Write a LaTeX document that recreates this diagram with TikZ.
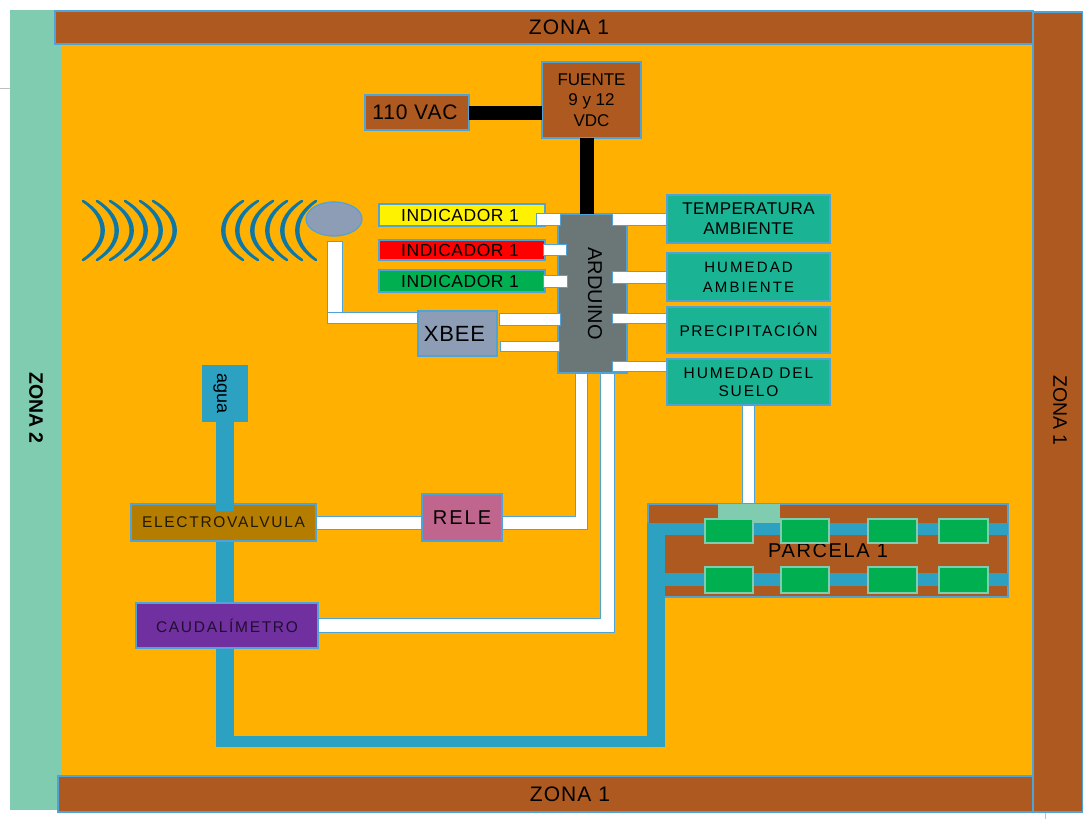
\documentclass[tikz,border=0pt]{standalone}
\usepackage{fontspec}
\usetikzlibrary{shapes.geometric}
\setmainfont{Liberation Sans}
\definecolor{edgeb}{HTML}{4FA3D8}
\definecolor{brownz}{HTML}{AD591F}
\definecolor{tealz}{HTML}{80CCB0}
\definecolor{orangez}{HTML}{FFB000}
\definecolor{pipec}{HTML}{2CA1C1}
\definecolor{sensorc}{HTML}{1AB394}
\definecolor{greyb}{HTML}{8D9DB5}
\definecolor{ardc}{HTML}{6B7777}
\definecolor{wavec}{HTML}{0F77A5}
\definecolor{greenc}{HTML}{00B050}
\definecolor{evc}{HTML}{B47D00}
\definecolor{purc}{HTML}{7030A0}
\definecolor{relc}{HTML}{C0668E}
\newcommand{\fsz}[1]{\fontsize{#1}{#1}\selectfont}
\newcommand{\lsp}[1]{\addfontfeatures{LetterSpace=#1}}
\newcommand{\bx}[7]{%
  \pgfmathsetmacro{\cxx}{(#2+#4)/2}\pgfmathsetmacro{\cyy}{(#3+#5)/2}%
  \pgfmathsetmacro{\wdd}{#4-#2}\pgfmathsetmacro{\htt}{#5-#3}%
  \node[box,minimum width=\wdd pt,minimum height=\htt pt,#6] (#1) at (\cxx,\cyy) {#7};}
\tikzset{
  box/.style={draw=edgeb,line width=1.2pt,inner sep=0pt,outer sep=0pt,align=center,text=black},
  valve/.style={fill=greenc,draw=tealz,line width=1.2pt},
  wire/.style={draw=edgeb,line width=1pt,double=white,double distance=#1,line cap=rect,line join=miter},
  blackw/.style={draw=black,line width=#1},
  pipe/.style={draw=pipec,line width=#1},
  wave/.style={draw=wavec,fill=wavec,line width=2.6pt,line join=round},
}
\begin{document}
\begin{tikzpicture}[x=1pt,y=-1pt]
\useasboundingbox (0,0) rectangle (1083,819);
\fill[white] (0,0) rectangle (1083,819);
\coordinate (gl) at (0,88); \coordinate (gr) at (10,88);
\draw[black!25,line width=.8pt] (gl) -- (gr);
\coordinate (tl) at (1045,812); \coordinate (tr) at (1045,819);
\draw[black!25,line width=.8pt] (tl) -- (tr);
% field
\bx{field}{60}{42}{1035}{778}{draw=none,fill=orangez}{}
\bx{zleft}{10}{10}{62}{810}{draw=none,fill=tealz}{}
\node[rotate=-90,font=\bfseries\fsz{19.5}] (zltxt) at (36,408) {ZONA 2};
\bx{ztop}{55}{11}{1033}{44}{fill=brownz}{}
\node[font=\fsz{21}\lsp{5}] (ztoptxt) at (569,27.5) {ZONA 1};
\bx{zbot}{58}{776}{1033}{812}{fill=brownz}{}
\node[font=\fsz{21}\lsp{5}] (zbottxt) at (570,794) {ZONA 1};
\bx{zright}{1033}{12}{1083}{812}{fill=brownz}{}
\node[rotate=-90,font=\fsz{19.5}] (zrtxt) at (1060,410.5) {ZONA 1};
% parcel
\bx{parc}{648}{504}{1008}{597}{fill=brownz,font=\fsz{20}\lsp{8}}{PARCELA 1}
\bx{junc}{718}{504}{780}{523}{draw=none,fill=tealz}{}
% pipes
\bx{agua}{203}{366}{247}{421}{fill=pipec,draw=pipec}{\rotatebox{-90}{\fsz{18}agua}\hspace*{10pt}}
\coordinate (pA) at (225,747);
\coordinate (pB) at (225,741.5);
\coordinate (pC) at (665,741.5);
\coordinate (pD) at (656,747);
\coordinate (pE) at (656,523);
\coordinate (pF) at (648,529);
\coordinate (pG) at (1008,529);
\coordinate (pH) at (648,579.5);
\coordinate (pI) at (1008,579.5);
\draw[pipe=18pt] (agua.south) -- (pA);
\draw[pipe=11pt] (pB) -- (pC);
\draw[pipe=18pt] (pD) -- (pE);
\draw[pipe=12pt] (pF) -- (pG);
\draw[pipe=13pt] (pH) -- (pI);
% valves
\bx{va}{705}{519}{753}{543}{valve}{}
\bx{vb}{781}{519}{829}{543}{valve}{}
\bx{vc}{868}{519}{917}{543}{valve}{}
\bx{vd}{939}{519}{988}{543}{valve}{}
\bx{ve}{705}{567}{753}{593}{valve}{}
\bx{vf}{781}{567}{829}{593}{valve}{}
\bx{vg}{868}{567}{917}{593}{valve}{}
\bx{vh}{939}{567}{988}{593}{valve}{}
% power
\bx{fuente}{542}{62}{641}{138}{fill=brownz,font=\fsz{17}}{FUENTE\\[3.5pt]9 y 12\\[3.5pt]VDC}
\bx{vac}{365}{95}{469}{130}{fill=brownz,font=\fsz{21}\lsp{4}}{110 VAC\hspace*{4pt}}
\bx{ard}{558}{214}{627}{373}{fill=ardc}{\hspace*{5pt}\rotatebox{-90}{\fsz{20}ARDUINO}}
\draw[blackw=14pt] (vac.east |- 0,113) -- (fuente.west |- 0,113);
\draw[blackw=14pt] (fuente.south -| 586.5,0) -- (ard.north -| 586.5,0);
% indicators
\bx{iy}{379}{204}{545}{226}{fill=yellow,font=\fsz{17.5}\lsp{3}}{INDICADOR 1\hspace*{4pt}}
\bx{ir}{379}{240}{545}{260}{fill=red,font=\fsz{17.5}\lsp{3}}{INDICADOR 1\hspace*{4pt}}
\bx{ig}{379}{270}{545}{292}{fill=greenc,font=\fsz{17.5}\lsp{3}}{INDICADOR 1\hspace*{4pt}}
% sensors
\bx{temp}{667}{195}{830}{243}{fill=sensorc,font=\fsz{17}\lsp{3}}{TEMPERATURA\\[3pt]AMBIENTE}
\bx{hum}{667}{253}{830}{301}{fill=sensorc,font=\fsz{15}\lsp{14}}{HUMEDAD\\[5pt]AMBIENTE}
\bx{prec}{667}{307}{830}{353}{fill=sensorc,font=\fsz{15.5}\lsp{10}}{PRECIPITACIÓN}
\bx{suelo}{667}{359}{830}{405}{fill=sensorc,font=\fsz{15.5}\lsp{12}}{HUMEDAD DEL\\[3pt]SUELO}
% control boxes
\bx{xbee}{418}{311}{497}{356}{fill=greyb,font=\fsz{22}\lsp{4}}{XBEE\hspace*{6pt}}
\bx{rele}{422}{494}{502}{541}{fill=relc,font=\fsz{20}\lsp{10}}{RELE}
\bx{ev}{131}{504}{316}{541}{fill=evc,text=black!80!evc,font=\fsz{15.5}\lsp{11}}{ELECTROVALVULA}
\bx{cau}{136}{603}{318}{648}{fill=purc,text=black!70!purc,font=\fsz{15.5}\lsp{11}}{CAUDALÍMETRO}
\coordinate (pJ) at (225,511);
\draw[pipe=18pt] (agua.south) -- (pJ);
% antenna and waves
\foreach \ex/\ax/\d in {83/103/1,97/117/1,110/132/1,125/146/1,140/161/1,153/175/1,243/223/-1,258/237/-1,273/252/-1,287/267/-1,302/282/-1,316/297/-1}{
  \pgfmathsetmacro{\cxo}{\ex+(\ax-\ex)*4/3+\d*0.8}
  \pgfmathsetmacro{\cxi}{\ex+(\ax-\ex)*4/3-\d*1.6}
  \draw[wave] (\ex,201) .. controls (\cxo,218) and (\cxo,243) .. (\ex,260)
     .. controls (\cxi,243) and (\cxi,218) .. cycle;
}
\node[draw=edgeb,fill=greyb,line width=1.2pt,ellipse,inner sep=0pt,minimum width=56pt,minimum height=34pt] (ant) at (334,219) {};
% white wires
\draw[wire=11pt] (542,219.5) -- (554,219.5);
\draw[wire=10pt] (549,250) -- (561,250);
\draw[wire=11pt] (549,281.5) -- (561,281.5);
\draw[wire=11pt,shorten >=6.5pt] (618,219.5) -- (temp.west |- 0,219.5);
\draw[wire=11pt,shorten >=6.5pt] (618,277.5) -- (hum.west |- 0,277.5);
\draw[wire=9pt,shorten >=5.5pt] (617.5,318.5) -- (prec.west |- 0,318.5);
\draw[wire=9pt,shorten >=5.5pt] (617.5,366.5) -- (suelo.west |- 0,366.5);
\draw[wire=11pt] (505,319.5) -- (554,319.5);
\draw[wire=9pt] (505,346) -- (554,346);
\draw[wire=14pt] (335,249) -- (335,312);
\draw[wire=10pt,shorten >=6pt] (333,318) -- (xbee.west |- 0,318);
\draw[wire=11pt,shorten <=6.5pt,shorten >=6.5pt] (suelo.south -| 748.5,0) -- (parc.north -| 748.5,0);
\draw[wire=12pt,shorten <=7pt,shorten >=7pt] (ev.east |- 0,523) -- (rele.west |- 0,523);
\draw[wire=11.5pt,shorten <=7pt,shorten >=7pt] (rele.east |- 0,523) -- (581.5,523) -- (581.5,373);
\draw[wire=13pt,shorten <=7.5pt,shorten >=7.5pt] (cau.east |- 0,625.5) -- (607.5,625.5) -- (607.5,373);
\end{tikzpicture}
\end{document}
